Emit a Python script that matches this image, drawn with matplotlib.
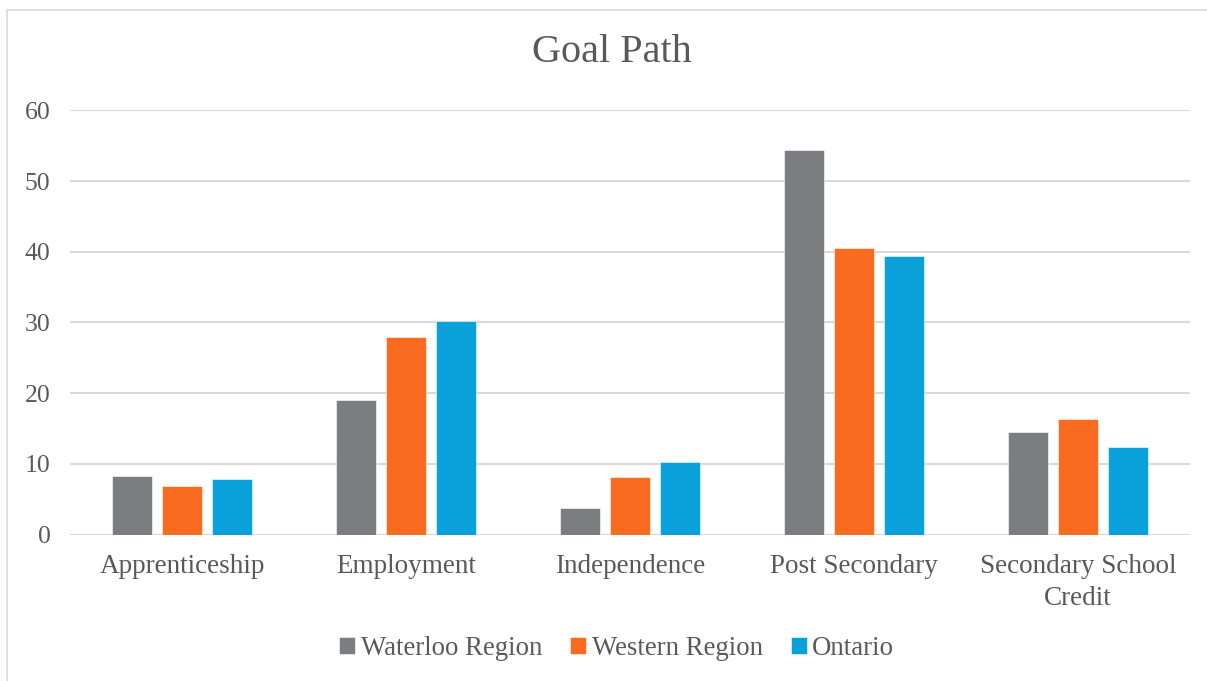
import numpy as np
import matplotlib
matplotlib.use("Agg")
from matplotlib import pyplot as plt
from matplotlib.patches import Rectangle

categories = ["Apprenticeship", "Employment", "Independence", "Post Secondary",
              "Secondary School\nCredit"]
series_names = ["Waterloo Region", "Western Region", "Ontario"]
waterloo = [8.3, 19.1, 3.7, 54.4, 14.5]
western = [6.9, 27.9, 8.2, 40.6, 16.4]
ontario = [7.9, 30.2, 10.3, 39.4, 12.4]
y_ticks = [0, 10, 20, 30, 40, 50, 60]

colors = ["#7C7D81", "#F96B1E", "#0AA1DA"]
text_color = "#595959"
grid_color = "#D9D9D9"

plt.rcParams["font.family"] = ["Liberation Serif", "DejaVu Serif"]

fig = plt.figure(figsize=(12.07, 6.81), dpi=100)
ax = fig.add_axes([0.058, 0.215, 0.928, 0.623])

# light chart-area border
fig.patches.append(Rectangle((7 / 1207, -0.01), 1.02, 1 - 10 / 681 + 0.01,
                             transform=fig.transFigure, fill=False,
                             edgecolor="#D9D9D9", lw=1.2))

x = np.arange(len(categories))
width = 0.178
step = 0.223
for i, (name, vals) in enumerate(zip(series_names, [waterloo, western, ontario])):
    ax.bar(x + (i - 1) * step, vals, width, color=colors[i], label=name,
           edgecolor="white", linewidth=0.4, zorder=3)

ax.set_xlim(-0.5, len(categories) - 0.5)
ax.set_ylim(0, 60)
ax.set_yticks(y_ticks)
ax.yaxis.grid(True, color=grid_color, lw=1.5, zorder=0)
ax.set_axisbelow(True)
for s in ax.spines.values():
    s.set_visible(False)
ax.tick_params(axis="y", length=0, labelsize=18.5, colors=text_color, pad=14)
ax.tick_params(axis="x", length=0, labelsize=19.5, colors=text_color, pad=14)
ax.set_xticks(x)
ax.set_xticklabels(categories, va="top", linespacing=1.35)

fig.text(612 / 1207, 1 - 52 / 681, "Goal Path", fontsize=29, color=text_color,
         ha="center", va="center")

leg = ax.legend(loc="center", bbox_to_anchor=(0.488, -0.268), ncol=3,
                frameon=False, fontsize=19.3, handlelength=0.6, handleheight=0.6,
                handletextpad=0.2, columnspacing=1.05)
for t in leg.get_texts():
    t.set_color(text_color)

fig.savefig("out.png", dpi=100)
